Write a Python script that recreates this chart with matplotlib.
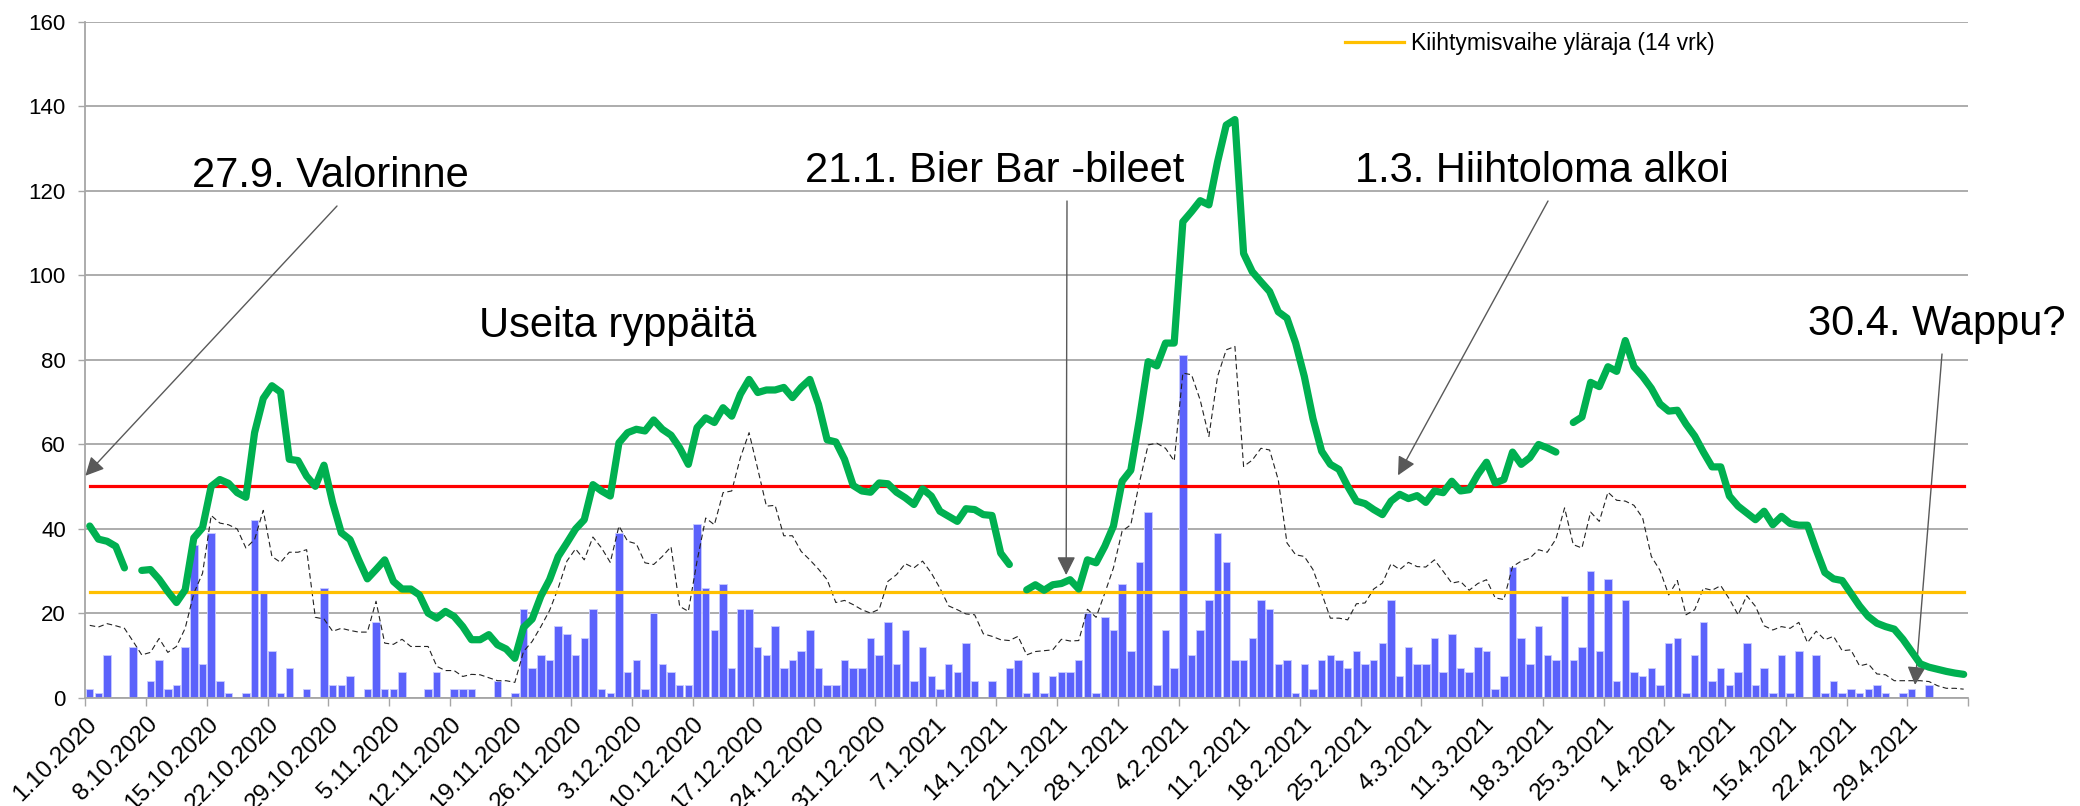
import numpy as np
import pandas as pd
import matplotlib
matplotlib.use('Agg')
import matplotlib.pyplot as plt

plt.rcParams['font.family'] = ['Liberation Sans', 'DejaVu Sans']

# ================= DATA =================
start_date = '2020-10-01'
n_days = 217

# daily new cases (bars)
daily_cases = [
    2, 1, 10, 0, 0, 12, 0, 4, 9, 2, 3, 12, 36, 8, 39, 4, 1, 0, 1, 42,
    25, 11, 1, 7, 0, 2, 0, 26, 3, 3, 5, 0, 2, 18, 2, 2, 6, 0, 0, 2,
    6, 0, 2, 2, 2, 0, 0, 4, 0, 1, 21, 7, 10, 9, 17, 15, 10, 14, 21, 2,
    1, 39, 6, 9, 2, 20, 8, 6, 3, 3, 41, 26, 16, 27, 7, 21, 21, 12, 10, 17,
    7, 9, 11, 16, 7, 3, 3, 9, 7, 7, 14, 10, 18, 8, 16, 4, 12, 5, 2, 8,
    6, 13, 4, 0, 4, 0, 7, 9, 1, 6, 1, 5, 6, 6, 9, 20, 1, 19, 16, 27,
    11, 32, 44, 3, 16, 7, 81, 10, 16, 23, 39, 32, 9, 9, 14, 23, 21, 8, 9, 1,
    8, 2, 9, 10, 9, 7, 11, 8, 9, 13, 23, 5, 12, 8, 8, 14, 6, 15, 7, 6,
    12, 11, 2, 5, 31, 14, 8, 17, 10, 9, 24, 9, 12, 30, 11, 28, 4, 23, 6, 5,
    7, 3, 13, 14, 1, 10, 18, 4, 7, 3, 6, 13, 3, 7, 1, 10, 1, 11, 0, 10,
    1, 4, 1, 2, 1, 2, 3, 1, 0, 1, 2, 0, 3, 0, 0, 0, 0,
]

# 14 day incidence (green), gaps as nan
incidence_14d = [
    40.6, 37.5, 37.0, 35.8, 30.7, np.nan, 30.1, 30.3, 28.0, 25.1,
    22.5, 25.5, 37.8, 40.2, 50.0, 51.6, 50.7, 48.5, 47.4, 62.7,
    70.8, 73.8, 72.3, 56.4, 56.1, 52.4, 50.0, 55.0, 46.1, 39.0,
    37.4, 32.6, 28.1, 30.3, 32.6, 27.5, 25.7, 25.7, 24.3, 20.0,
    18.8, 20.4, 19.2, 16.8, 13.7, 13.7, 14.9, 12.5, 11.5, 9.3,
    16.6, 18.6, 24.0, 27.9, 33.4, 36.6, 39.9, 42.1, 50.4, 48.9,
    47.7, 60.3, 62.7, 63.5, 63.1, 65.7, 63.5, 62.1, 59.1, 55.2,
    63.9, 66.2, 65.1, 68.6, 66.6, 71.8, 75.3, 72.2, 72.8, 72.8,
    73.4, 71.0, 73.4, 75.3, 69.4, 61.0, 60.5, 56.4, 50.2, 48.9,
    48.6, 50.8, 50.6, 48.6, 47.3, 45.7, 49.4, 47.7, 44.1, 42.9,
    41.7, 44.7, 44.5, 43.3, 43.1, 34.2, 31.5, np.nan, 25.5, 26.7,
    25.4, 26.7, 27.0, 27.9, 25.7, 32.6, 31.9, 35.8, 40.6, 51.2,
    53.8, 66.0, 79.5, 78.5, 83.9, 83.9, 112.6, 115.0, 117.6, 116.6,
    126.8, 135.5, 136.8, 105.1, 100.8, 98.4, 96.1, 91.3, 89.8, 83.9,
    76.0, 66.0, 58.3, 55.2, 54.0, 50.0, 46.5, 45.9, 44.5, 43.3,
    46.5, 48.1, 47.1, 47.8, 46.2, 48.9, 48.5, 51.2, 48.9, 49.2,
    52.8, 55.7, 50.8, 51.6, 58.1, 55.2, 56.8, 59.9, 59.1, 58.1,
    np.nan, 65.1, 66.4, 74.6, 73.6, 78.3, 77.2, 84.5, 78.3, 76.0,
    73.2, 69.5, 67.8, 68.0, 64.7, 61.9, 58.1, 54.6, 54.6, 47.7,
    45.3, 43.7, 42.1, 44.1, 40.9, 42.9, 41.2, 40.8, 40.8, 35.0,
    29.6, 28.1, 27.7, 24.7, 21.7, 19.2, 17.6, 16.8, 16.2, 13.8,
    10.9, 8.0, 7.2, 6.7, 6.2, 5.8, 5.5,
]

# thin dashed series
dashed_series = [
    17.1, 16.7, 17.5, 17.0, 16.4, 13.3, 10.1, 10.7, 14.0, 10.7,
    12.1, 16.4, 24.7, 29.4, 43.1, 41.3, 40.9, 39.9, 35.4, 37.4,
    44.3, 33.4, 32.0, 34.4, 34.4, 35.0, 19.0, 18.6, 15.7, 16.4,
    15.9, 15.5, 15.5, 22.8, 12.9, 12.6, 13.8, 12.1, 12.1, 12.1,
    7.4, 6.4, 6.4, 5.0, 5.5, 5.4, 4.7, 4.0, 4.0, 3.6,
    10.9, 13.3, 16.8, 20.6, 25.9, 32.3, 35.2, 32.6, 38.0, 35.4,
    32.0, 40.6, 37.0, 36.4, 31.9, 31.5, 33.4, 35.7, 21.6, 20.4,
    32.3, 42.5, 40.9, 48.5, 48.9, 56.8, 62.7, 54.1, 45.3, 45.5,
    38.3, 38.3, 34.6, 32.6, 30.4, 27.9, 22.5, 23.0, 22.0, 20.8,
    20.0, 20.9, 27.5, 29.1, 31.7, 30.7, 32.3, 29.5, 25.9, 21.7,
    20.8, 19.8, 19.6, 15.1, 14.5, 13.7, 13.5, 14.5, 10.1, 10.9,
    11.1, 11.3, 13.8, 13.4, 13.5, 20.9, 19.0, 24.7, 30.7, 39.4,
    40.9, 51.0, 59.8, 60.2, 59.0, 56.0, 76.8, 76.4, 70.4, 61.8,
    76.0, 82.3, 83.1, 54.7, 56.2, 59.0, 58.6, 51.5, 36.6, 33.8,
    33.4, 30.3, 24.7, 18.8, 18.8, 18.4, 22.2, 22.4, 25.7, 27.1,
    31.7, 30.3, 32.0, 31.0, 30.9, 32.6, 29.9, 27.1, 27.5, 25.4,
    27.0, 27.9, 23.6, 23.2, 31.0, 32.3, 33.0, 35.0, 34.4, 37.5,
    44.9, 36.2, 35.4, 43.9, 41.7, 48.6, 46.7, 46.5, 45.5, 42.5,
    33.4, 30.1, 24.3, 27.7, 19.6, 20.8, 25.9, 25.4, 26.5, 23.3,
    19.6, 24.1, 21.6, 17.0, 16.0, 16.8, 16.4, 17.8, 13.0, 15.7,
    13.7, 14.5, 11.1, 11.3, 7.5, 8.0, 5.6, 5.4, 4.0, 4.0,
    4.0, 4.0, 3.8, 2.8, 2.2, 2.2, 2.0,
]

red_limit = 50      # punainen raja
orange_limit = 25   # Kiihtymisvaihe yläraja (14 vrk)
legend_label = 'Kiihtymisvaihe yläraja (14 vrk)'

y_ticks = [0, 20, 40, 60, 80, 100, 120, 140, 160]

# annotations: (text, day index of arrow tip, value of arrow tip)
annotations = [
    ('27.9. Valorinne', 0.0, 52.5),
    ('21.1. Bier Bar -bileet', 113.05, 29.0),
    ('1.3. Hiihtoloma alkoi', 151.3, 52.6),
    ('30.4. Wappu?', 210.9, 3.0),
]
free_text = 'Useita ryppäitä'

# ================= PREP =================
dates = pd.date_range(start_date, periods=n_days, freq='D')
x_days = np.arange(n_days) + 0.5
tick_pos = list(range(0, n_days, 7)) + [n_days]
tick_labels = [f'{dates[i].day}.{dates[i].month}.{dates[i].year}' for i in range(0, n_days, 7)] + ['']

W, H = 2080, 806
fig = plt.figure(figsize=(W / 100, H / 100), dpi=100)
ax = fig.add_axes([85.4 / W, (H - 697.6) / H, (1968 - 85.4) / W, (697.6 - 21.5) / H])

grid_col = '#a6a6a6'

# ---- bars ----
ax.bar(x_days, daily_cases, width=0.86, color='#5b62fb', edgecolor='#c9ccff',
       linewidth=0.6, zorder=2)

# ---- dashed line ----
ax.plot(x_days, dashed_series, color='#222222', lw=0.8, ls=(0, (5, 3)), zorder=3)

# ---- limits ----
ax.plot(x_days, [red_limit] * n_days, color='#ff0000', lw=2.3, zorder=4)
orange_line, = ax.plot(x_days, [orange_limit] * n_days, color='#ffc000', lw=2.3,
                       zorder=4, label=legend_label)

# ---- green line ----
ax.plot(x_days, incidence_14d, color='#00b050', lw=5.2, zorder=5,
        solid_joinstyle='round', solid_capstyle='round')

# ---- axes ----
ax.set_xlim(0, n_days)
ax.set_ylim(0, 160)
ax.set_yticks(y_ticks)
ax.set_yticklabels([str(v) for v in y_ticks], fontsize=16)
ax.set_xticks(tick_pos)
ax.set_xticklabels(tick_labels, fontsize=17.5, rotation=45, ha='right',
                   va='top', rotation_mode='anchor')
ax.tick_params(axis='y', length=5, width=1, color=grid_col, pad=9)
ax.tick_params(axis='x', length=6, width=1, color=grid_col, pad=5)
ax.grid(axis='y', color=grid_col, lw=1.3, zorder=0)
ax.set_axisbelow(True)
for s in ['top', 'right']:
    ax.spines[s].set_visible(False)
for s in ['left', 'bottom']:
    ax.spines[s].set_color(grid_col)
    ax.spines[s].set_linewidth(1.3)

# ---- legend ----
ax.legend(handles=[orange_line], loc='center left', bbox_to_anchor=(0.669, 0.968),
          frameon=False, fontsize=16.5, handlelength=2.6, handletextpad=0.3,
          borderpad=0, borderaxespad=0)

# ---- annotations ----
text_pos = [(192, 187), (805, 182), (1355, 182), (1808, 335)]
tail_pos = [(337, 206), (1067, 201), (1548, 201), (1942, 354)]
for (txt, xd, yd), (tx, ty), (ax_px, ay_px) in zip(annotations, text_pos, tail_pos):
    fig.text(tx / W, 1 - ty / H, txt, fontsize=30, ha='left', va='baseline')
    ax.annotate('', xy=(xd, yd), xycoords='data',
                xytext=(ax_px / W, 1 - ay_px / H), textcoords='figure fraction',
                arrowprops=dict(arrowstyle='-|>', color='#595959', lw=1.0,
                                mutation_scale=28, shrinkA=0, shrinkB=0),
                annotation_clip=False)
fig.text(479 / W, 1 - 337 / H, free_text, fontsize=30, ha='left', va='baseline')

fig.savefig('out.png', dpi=100)
